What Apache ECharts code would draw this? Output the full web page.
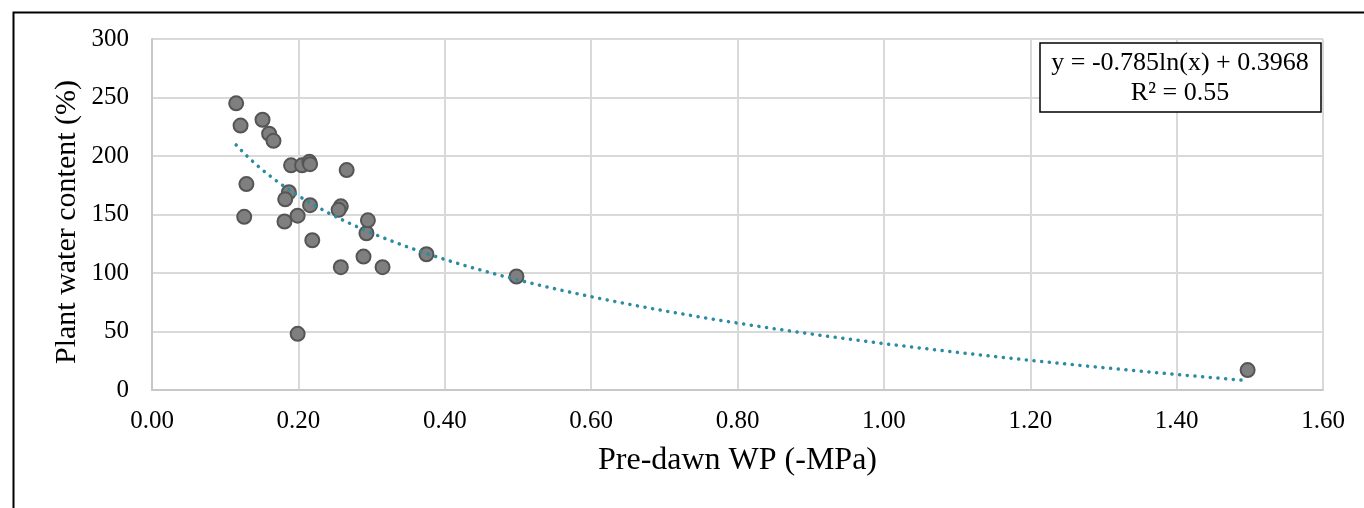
<!DOCTYPE html>
<html>
<head>
<meta charset="utf-8">
<script src="https://cdn.jsdelivr.net/npm/echarts@6/dist/echarts.min.js"></script>
<style>
html,body{margin:0;padding:0;background:#fff;}
#c{width:1364px;height:508px;}
</style>
</head>
<body>
<div id="c"></div>
<script>
// Pre-dawn water potential (-MPa)
const wpValues = [0.115, 0.121, 0.151, 0.160, 0.166, 0.129, 0.126, 0.190, 0.205, 0.215,
                  0.216, 0.266, 0.187, 0.182, 0.216, 0.258, 0.255, 0.181, 0.199, 0.219,
                  0.258, 0.293, 0.289, 0.315, 0.295, 0.375, 0.498, 0.199, 1.497];
// Plant water content (%)
const pwcValues = [245, 226, 231, 219, 213, 176, 148, 192, 192, 195,
                   193, 188, 169, 163, 158, 157, 154, 144, 149, 128,
                   105, 134, 114, 105, 145, 116, 97, 48, 17];
// Logarithmic trendline as shown on the chart: y = a ln(x) + b (fraction -> %)
const trendA = -0.785;
const trendB = 0.3968;
const trendXMin = 0.115;
const trendXMax = 1.49;
const xTicks = ['0.00','0.20','0.40','0.60','0.80','1.00','1.20','1.40','1.60'];
const yTicks = [0, 50, 100, 150, 200, 250, 300];
const xTitle = 'Pre-dawn WP (-MPa)';
const yTitle = 'Plant water content (%)';
const eqLine1 = 'y = -0.785ln(x) + 0.3968';
const eqLine2 = 'R² = 0.55';

const scatterData = wpValues.map((x, i) => [x, pwcValues[i]]);
const trendData = [];
const steps = 200;
for (let i = 0; i <= steps; i++) {
  const x = trendXMin + (trendXMax - trendXMin) * i / steps;
  trendData.push([x, (trendA * Math.log(x) + trendB) * 100]);
}

const FONT = '"Liberation Serif", "Times New Roman", serif';
const chart = echarts.init(document.getElementById('c'), null, {renderer: 'canvas'});
chart.setOption({
  animation: false,
  grid: {left: 152, right: 41, top: 39, bottom: 118},
  xAxis: {
    type: 'value', min: 0, max: 1.6, interval: 0.2,
    name: xTitle, nameLocation: 'middle', nameGap: 55,
    nameTextStyle: {fontFamily: FONT, fontSize: 32, color: '#000'},
    axisLine: {show: true, lineStyle: {color: '#c8c8c8', width: 2}},
    axisTick: {show: false},
    splitLine: {show: true, lineStyle: {color: '#d9d9d9', width: 2}},
    axisLabel: {
      fontFamily: FONT, fontSize: 25, color: '#000', margin: 19,
      formatter: (v) => xTicks[Math.round(v / 0.2)]
    }
  },
  yAxis: {
    type: 'value', min: 0, max: 300, interval: 50,
    axisLine: {show: true, lineStyle: {color: '#c8c8c8', width: 2}},
    axisTick: {show: false},
    splitLine: {show: true, lineStyle: {color: '#d9d9d9', width: 2}},
    axisLabel: {
      fontFamily: FONT, fontSize: 25, color: '#000', margin: 23,
      formatter: (v) => String(yTicks[Math.round(v / 50)])
    }
  },
  series: [
    {
      type: 'line', data: trendData, showSymbol: false, symbol: 'none', smooth: false,
      lineStyle: {color: '#2b8ba1', width: 3.5, type: [0.1, 7.6], cap: 'round'},
      z: 3
    },
    {
      type: 'scatter', data: scatterData, symbolSize: 14,
      itemStyle: {color: '#7f7f7f', borderColor: '#555555', borderWidth: 2, opacity: 1},
      z: 2
    }
  ],
  graphic: [
    {
      type: 'rect', left: 11, top: 10, z: 100, silent: true,
      shape: {x: 0, y: 0, width: 1400, height: 600},
      style: {fill: 'none', stroke: '#000', lineWidth: 2}
    },
    {
      type: 'text', z: 100, x: 67, y: 222, rotation: Math.PI / 2,
      style: {text: yTitle, font: '30px ' + FONT, fill: '#000', align: 'center', verticalAlign: 'middle'}
    },
    {
      type: 'rect', z: 100,
      shape: {x: 1040, y: 43, width: 281, height: 69},
      style: {fill: '#fff', stroke: '#000', lineWidth: 1.5}
    },
    {
      type: 'text', z: 101,
      x: 1180, y: 63,
      style: {text: eqLine1, font: '26px ' + FONT, fill: '#000', align: 'center', verticalAlign: 'middle'}
    },
    {
      type: 'text', z: 101,
      x: 1180, y: 93,
      style: {text: eqLine2, font: '26px ' + FONT, fill: '#000', align: 'center', verticalAlign: 'middle'}
    }
  ]
});
</script>
</body>
</html>
